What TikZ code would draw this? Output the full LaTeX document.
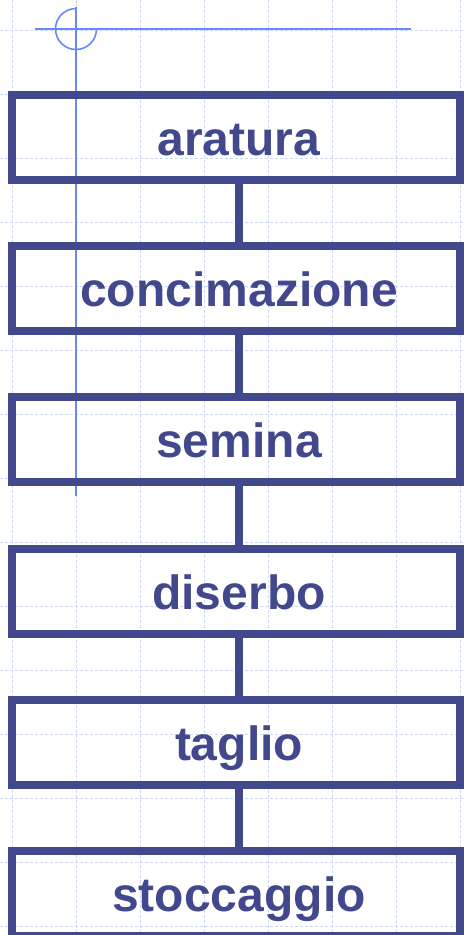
\documentclass[tikz,border=0pt]{standalone}
\usepackage{fontspec}
\setmainfont{Liberation Sans}
\definecolor{boxblue}{RGB}{66,72,140}
\definecolor{gridblue}{RGB}{205,215,252}
\definecolor{markblue}{RGB}{105,135,255}
\begin{document}
\begin{tikzpicture}[x=1pt,y=-1pt,
  gridline/.style={draw=gridblue,line width=1pt,dash pattern=on 3pt off 2pt},
  markline/.style={draw=markblue,line width=1.6pt},
  stagebox/.style={draw=boxblue,line width=8pt,minimum width=448pt,minimum height=85pt,
    inner sep=0pt,text height=36pt,text depth=0pt,text=boxblue,
    font=\fontsize{48}{56}\selectfont\bfseries,
    execute at begin node=\hspace*{6pt}},
  conn/.style={draw=boxblue,line width=8pt}]
\useasboundingbox (0,0) rectangle (464,935);
% background grid
\foreach \gx in {12,76,...,460} \draw[gridline] (\gx,0) -- (\gx,935);
\foreach \gy in {30,94,...,926} \draw[gridline] (0,\gy) -- (464,\gy);
% registration mark
\coordinate (mc) at (76,29);
\coordinate (mh1) at (35,29);
\coordinate (mh2) at (411,29);
\coordinate (mv1) at (76,7);
\coordinate (mv2) at (76,496);
\draw[markline] (mh1) -- (mh2);
\draw[markline] (mv1) -- (mv2);
\draw[markline] (mc) ++(0,-20.5) arc[start angle=-90,end angle=-360,radius=20.5];
% stages
\node[stagebox] (b1) at (236,137) {aratura};
\node[stagebox] (b2) at (236,288.5) {concimazione};
\node[stagebox] (b3) at (236,439.5) {semina};
\node[stagebox] (b4) at (236,591) {diserbo};
\node[stagebox] (b5) at (236,742) {taglio};
\node[stagebox] (b6) at (236,893.5) {stoccaggio};
\foreach \a/\b in {b1/b2,b2/b3,b3/b4,b4/b5,b5/b6}
  \draw[conn] ([xshift=3pt,yshift=2pt]\a.south) -- ([xshift=3pt]\b.north);
\end{tikzpicture}
\end{document}
